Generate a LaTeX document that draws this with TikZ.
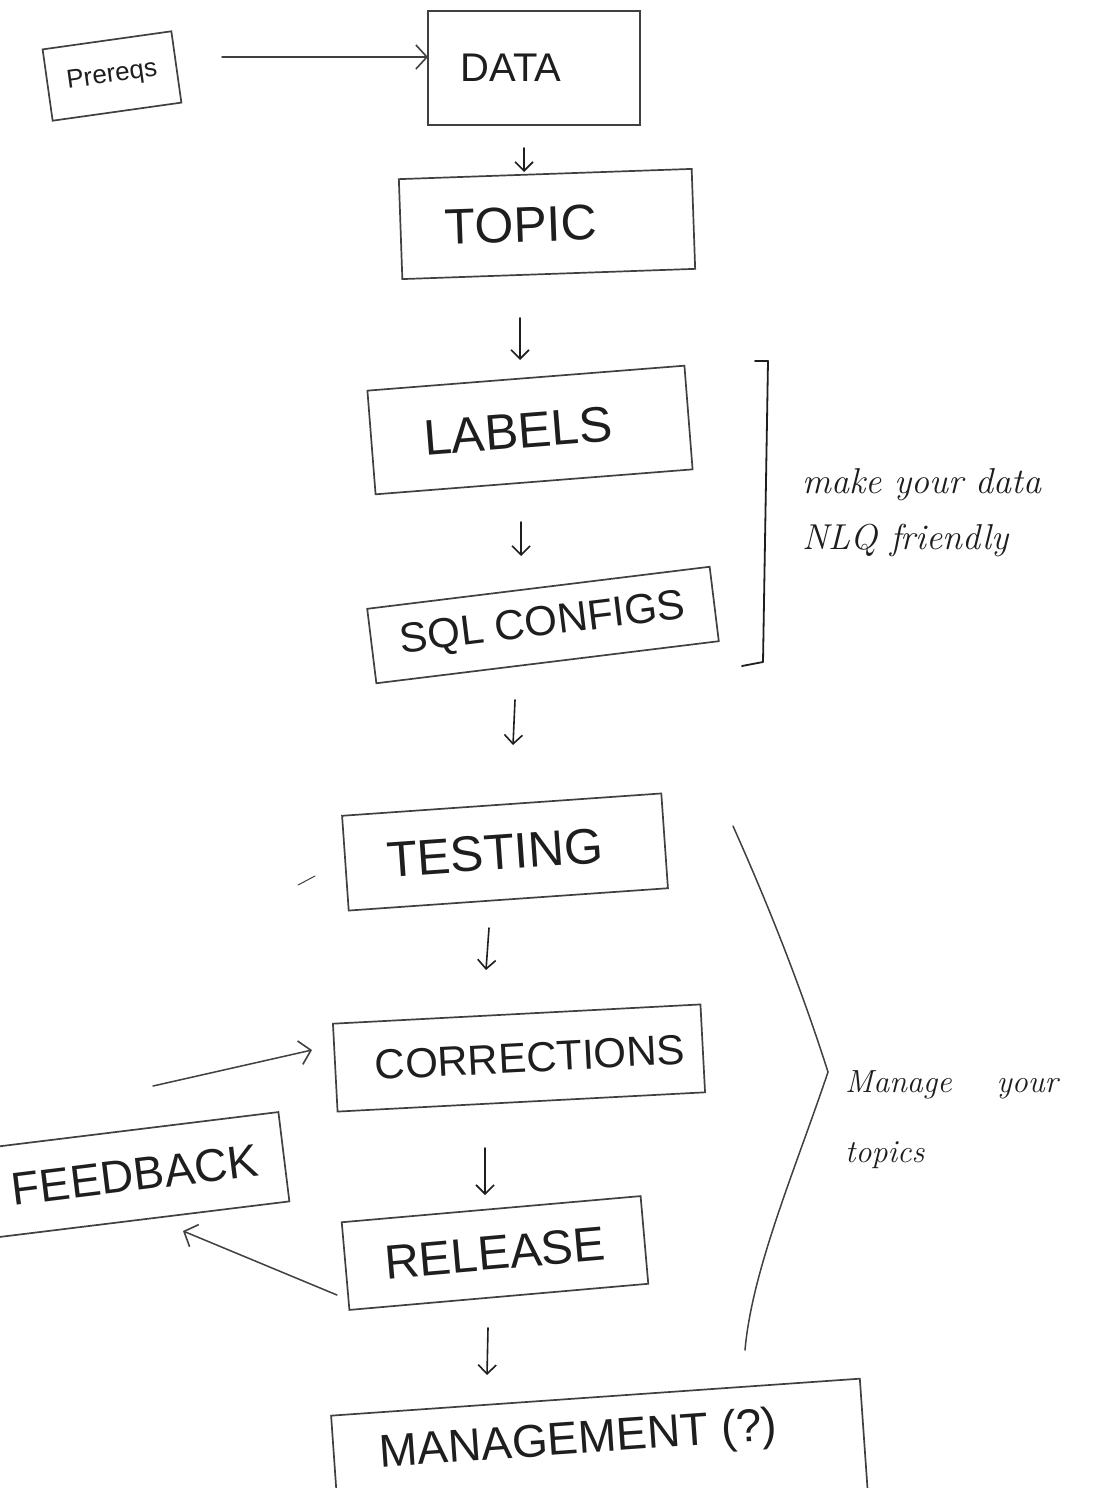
\documentclass[tikz,border=0pt]{standalone}
\usepackage{fontspec}
\newfontfamily\boxfont{Liberation Sans}
\usetikzlibrary{arrows.meta,calc}
\definecolor{pen}{HTML}{404040}
\definecolor{ink}{HTML}{1E1E1E}
\newcommand\fsz[1]{\fontsize{#1}{#1}\selectfont}
\tikzset{
  stepbox/.style={draw=pen, line width=1.7pt, rectangle, inner sep=0pt, text=ink, font=\boxfont\fsz{46}},
  flow/.style={draw=ink, line width=1.6pt, line cap=round, -{Straight Barb[length=9pt,width=18pt,line width=1.6pt]}},
  sideflow/.style={draw=pen, line width=1.5pt, line cap=round, -{Straight Barb[length=11pt,width=24pt,line width=1.6pt]}},
  note/.style={text=ink, align=left, inner sep=0pt},
  bracketline/.style={draw=ink, line width=1.8pt, line cap=round, line join=round},
}
\begin{document}
\begin{tikzpicture}[x=1pt,y=-1pt]
\useasboundingbox (0,0) rectangle (1110,1488);
\fill[white] (0,0) rectangle (1110,1488);
\clip (0,0) rectangle (1110,1488);

% boxes
\node[stepbox, rotate=8, minimum width=130pt, minimum height=72pt, font=\boxfont\fsz{26}] (pre) at (112,76) {Prereqs};
\node[stepbox, minimum width=212pt, minimum height=114pt, font=\boxfont\fsz{40}] (data) at (534,68) {DATA\hspace*{46pt}};
\node[stepbox, rotate=2, minimum width=293pt, minimum height=100pt, font=\boxfont\fsz{50}] (topic) at (547,224) {TOPIC\hspace*{52pt}};
\node[stepbox, rotate=4.5, minimum width=318pt, minimum height=104pt, font=\boxfont\fsz{50}] (labels) at (530,430) {LABELS\hspace*{24pt}};
\node[stepbox, rotate=7, minimum width=345pt, minimum height=75pt, font=\boxfont\fsz{42}] (sql) at (543,625) {SQL CONFIGS};
\node[stepbox, rotate=4, minimum width=320pt, minimum height=95pt, font=\boxfont\fsz{50}] (testing) at (505,852) {TESTING\hspace*{20pt}};
\node[stepbox, rotate=3, minimum width=368pt, minimum height=88pt, font=\boxfont\fsz{42}] (corrections) at (519,1058) {\hspace*{22pt}CORRECTIONS};
\node[stepbox, rotate=5, minimum width=300pt, minimum height=88pt, font=\boxfont\fsz{48}] (release) at (495,1253) {RELEASE};
\node[stepbox, rotate=4, minimum width=530pt, text height=33pt, text depth=53pt, inner ysep=22pt, font=\boxfont\fsz{46}] (management) at (600,1462) {MANAGEMENT (?)\hspace*{40pt}};
\node[stepbox, rotate=7, minimum width=300pt, minimum height=90pt, font=\boxfont\fsz{46}] (feedback) at (135,1175) {FEEDBACK};

% connectors
\draw[sideflow] ($(pre)+(110,-19)$) -- ($(data)+(-106,-11)$);
\draw[flow] ($(data)+(-10,80)$) -- ($(topic)+(-23,-52)$);
\draw[flow] ($(topic)+(-27,94)$) -- ($(labels)+(-10,-70)$);
\draw[flow] ($(labels)+(-9,92)$) -- ($(sql)+(-22,-69)$);
\draw[flow] ($(sql)+(-28,75)$) -- ($(testing)+(8,-107)$);
\draw[flow] ($(testing)+(-16,76)$) -- ($(corrections)+(-33,-88)$);
\draw[flow] ($(corrections)+(-34,90)$) -- ($(release)+(-10,-58)$);
\draw[flow] ($(release)+(-7,75)$) -- ($(management)+(-113,-87)$);
\draw[sideflow] ($(feedback)+(18,-89)$) -- ($(corrections)+(-207,-8)$);
\draw[sideflow] ($(release)+(-158,42)$) -- ($(feedback)+(48,56)$);

% stray stroke near testing
\draw[draw=pen, line width=1pt, line cap=round] (298,885) -- (315,876);

% bracket for labels / sql configs
\draw[bracketline] (755,361) -- (768,361) -- (763,662) -- (742,666);
\node[note, anchor=north west, font=\itshape\fontsize{36}{56}\selectfont] (note1) at (802,468) {make your data\\NLQ friendly};

% brace for testing ... management
\draw[draw=pen, line width=1.5pt, line cap=round] (733,826) .. controls (775,920) and (805,1000) .. (828,1072) .. controls (795,1170) and (752,1270) .. (745,1350);
\node[note, anchor=north west, font=\itshape\fontsize{32}{70}\selectfont] (note2) at (845,1070) {Manage\hspace{45pt}your\\topics};
\end{tikzpicture}
\end{document}
